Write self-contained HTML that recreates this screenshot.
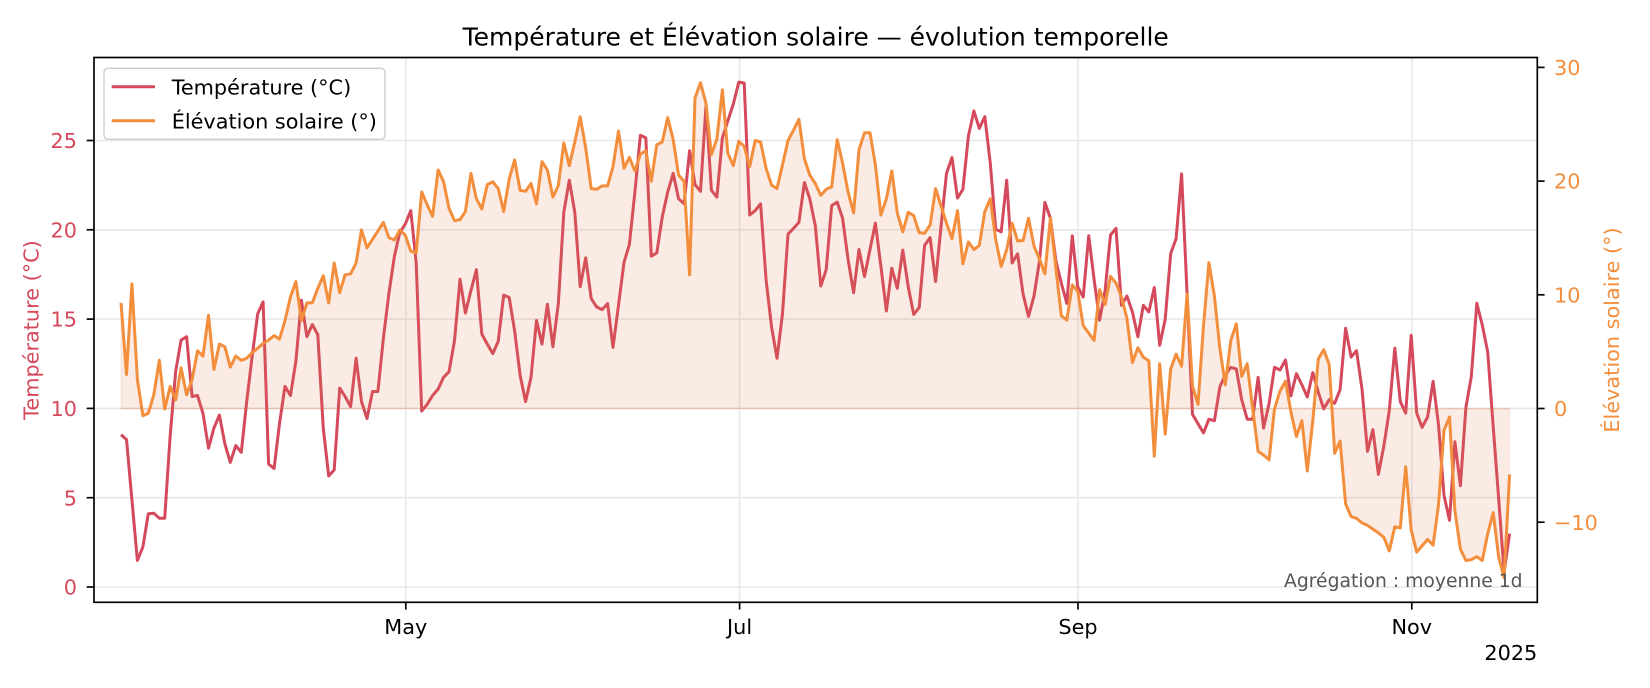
<!DOCTYPE html>
<html><head><meta charset="utf-8"><style>
html,body{margin:0;padding:0;background:#fff;}
svg{display:block;font-family:"DejaVu Sans","Liberation Sans",sans-serif;}
</style></head><body>
<svg width="1650" height="688" viewBox="0 0 1650 688" xmlns="http://www.w3.org/2000/svg">
<rect x="0" y="0" width="1650" height="688" fill="#fff"/>
<!-- grid -->
<g stroke="#e8e8e8" stroke-width="1.6">
<line x1="94" y1="587" x2="1537.3" y2="587"/>
<line x1="94" y1="497.7" x2="1537.3" y2="497.7"/>
<line x1="94" y1="408.4" x2="1537.3" y2="408.4"/>
<line x1="94" y1="319.1" x2="1537.3" y2="319.1"/>
<line x1="94" y1="229.8" x2="1537.3" y2="229.8"/>
<line x1="94" y1="140.5" x2="1537.3" y2="140.5"/>
<line x1="405.8" y1="57.5" x2="405.8" y2="602.3"/>
<line x1="739.6" y1="57.5" x2="739.6" y2="602.3"/>
<line x1="1078" y1="57.5" x2="1078" y2="602.3"/>
<line x1="1411.8" y1="57.5" x2="1411.8" y2="602.3"/>
</g>
<!-- temperature -->
<polyline fill="none" stroke="#d4495b" stroke-width="3" stroke-linejoin="round" points="121.0,434.7 126.5,439.5 131.9,499.6 137.4,560.5 142.9,546.9 148.3,513.8 153.8,513.2 159.3,518.2 164.7,518.2 170.2,435.4 175.7,371.2 181.1,340.1 186.6,336.7 192.1,396.5 197.5,395.5 203.0,413.4 208.5,448.2 213.9,428.0 219.4,415.1 224.9,443.9 230.3,462.4 235.8,445.5 241.3,452.3 246.7,401.6 252.2,356.0 257.7,313.7 263.1,301.9 268.6,464.1 274.1,468.5 279.5,423.6 285.0,386.4 290.5,395.5 295.9,361.0 301.4,300.2 306.9,336.7 312.3,324.5 317.8,334.7 323.3,428.6 328.7,476.0 334.2,469.9 339.7,388.1 345.1,396.5 350.6,406.7 356.1,358.3 361.5,401.6 367.0,418.5 372.5,391.5 377.9,391.5 383.4,338.0 388.9,293.4 394.4,256.2 399.8,232.6 405.3,224.1 410.8,210.6 416.2,263.0 421.7,411.1 427.2,404.3 432.6,395.5 438.1,389.1 443.6,377.3 449.0,371.8 454.5,340.7 460.0,279.2 465.4,313.0 470.9,290.7 476.4,269.7 481.8,334.0 487.3,344.1 492.8,353.6 498.2,341.4 503.7,295.1 509.2,297.5 514.6,330.6 520.1,375.2 525.6,401.6 531.0,377.3 536.5,320.5 542.0,344.1 547.4,304.2 552.9,346.8 558.4,302.9 563.8,212.3 569.3,180.2 574.8,212.3 580.2,286.6 585.7,257.9 591.2,298.5 596.6,306.9 602.1,309.6 607.6,303.6 613.0,347.5 618.5,305.2 624.0,262.3 629.4,244.4 634.9,192.0 640.4,135.2 645.8,137.9 651.3,256.2 656.8,252.8 662.2,217.3 667.7,192.0 673.2,173.4 678.6,198.8 684.1,203.8 689.6,150.7 695.0,184.6 700.5,191.3 706.0,105.8 711.4,190.3 716.9,197.1 722.4,137.9 727.8,121.0 733.3,104.1 738.8,82.1 744.2,83.1 749.7,215.0 755.2,210.6 760.6,203.8 766.1,279.9 771.6,327.2 777.0,358.3 782.5,313.7 788.0,234.2 793.4,228.5 798.9,222.4 804.4,182.5 809.8,198.8 815.3,225.8 820.8,286.0 826.2,269.7 831.7,205.5 837.2,202.1 842.6,218.4 848.1,259.6 853.6,292.7 859.0,249.5 864.5,276.5 870.0,249.5 875.4,223.1 880.9,266.4 886.4,311.0 891.8,268.1 897.3,288.3 902.8,250.1 908.2,286.6 913.7,314.4 919.2,307.6 924.6,245.4 930.1,237.6 935.6,281.6 941.1,225.8 946.5,173.4 952.0,157.5 957.5,198.1 962.9,189.3 968.4,136.2 973.9,110.9 979.3,128.4 984.8,116.6 990.3,163.3 995.7,229.2 1001.2,231.9 1006.7,180.2 1012.1,263.0 1017.6,253.9 1023.1,294.2 1028.5,316.4 1034.0,296.0 1039.5,260.9 1044.9,202.4 1050.4,218.3 1055.9,260.9 1061.3,283.1 1066.8,303.4 1072.3,235.7 1077.7,286.8 1083.2,297.1 1088.7,235.7 1094.1,279.4 1099.6,320.1 1105.1,290.5 1110.5,235.0 1116.0,228.3 1121.5,305.3 1126.9,296.0 1132.4,311.9 1137.9,336.7 1143.3,305.3 1148.8,311.9 1154.3,287.5 1159.7,345.2 1165.2,319.3 1170.7,253.5 1176.1,238.7 1181.6,173.9 1187.1,294.2 1192.5,414.4 1198.0,423.7 1203.5,432.9 1208.9,419.2 1214.4,420.7 1219.9,386.7 1225.3,374.8 1230.8,367.4 1236.3,368.9 1241.7,399.6 1247.2,419.2 1252.7,419.2 1258.1,377.4 1263.6,428.1 1269.1,403.3 1274.5,367.4 1280.0,370.0 1285.5,360.0 1290.9,395.9 1296.4,373.7 1301.9,384.8 1307.3,397.0 1312.8,372.6 1318.3,392.2 1323.7,408.9 1329.2,399.6 1334.7,403.3 1340.1,389.6 1345.6,328.2 1351.1,357.0 1356.5,350.7 1362.0,389.0 1367.5,451.4 1372.9,429.6 1378.4,474.4 1383.9,445.7 1389.3,410.5 1394.8,348.1 1400.3,401.6 1405.7,413.1 1411.2,335.4 1416.7,413.1 1422.1,427.3 1427.6,417.0 1433.1,381.4 1438.5,424.6 1444.0,495.4 1449.5,520.3 1454.9,441.8 1460.4,485.8 1465.9,407.4 1471.3,376.8 1476.8,303.3 1482.3,325.1 1487.7,351.9 1493.2,426.5 1498.7,499.2 1504.1,572.0 1509.6,533.7"/>
<!-- solar fill -->
<polygon fill="#e07a4a" fill-opacity="0.15" stroke="#e07a4a" stroke-opacity="0.15" stroke-width="1" points="121.0,302.9 126.5,374.5 131.9,283.9 137.4,379.6 142.9,415.8 148.3,413.4 153.8,394.8 159.3,360.3 164.7,409.0 170.2,386.4 175.7,399.9 181.1,367.8 186.6,394.8 192.1,379.6 197.5,350.9 203.0,356.0 208.5,315.4 213.9,369.5 219.4,344.1 224.9,346.8 230.3,367.1 235.8,356.0 241.3,360.3 246.7,358.3 252.2,352.6 257.7,348.2 263.1,343.4 268.6,340.1 274.1,335.7 279.5,339.1 285.0,320.5 290.5,296.8 295.9,281.6 301.4,320.5 306.9,302.9 312.3,302.9 317.8,288.3 323.3,275.8 328.7,302.9 334.2,263.0 339.7,292.7 345.1,274.8 350.6,273.8 356.1,263.0 361.5,229.9 367.0,247.8 372.5,239.3 377.9,230.9 383.4,222.4 388.9,237.6 394.4,240.0 399.8,229.9 405.3,235.3 410.8,251.2 416.2,252.8 421.7,192.0 427.2,204.8 432.6,216.3 438.1,170.0 443.6,181.8 449.0,208.2 454.5,220.7 460.0,219.7 465.4,211.6 470.9,173.4 476.4,198.8 481.8,208.9 487.3,184.6 492.8,181.8 498.2,188.6 503.7,211.6 509.2,179.1 514.6,159.9 520.1,190.3 525.6,191.3 531.0,183.5 536.5,203.8 542.0,161.6 547.4,170.0 552.9,197.1 558.4,185.2 563.8,143.0 569.3,165.6 574.8,142.0 580.2,116.9 585.7,148.0 591.2,188.6 596.6,189.3 602.1,185.9 607.6,185.9 613.0,166.6 618.5,131.1 624.0,168.3 629.4,157.5 634.9,171.0 640.4,154.1 645.8,150.7 651.3,181.2 656.8,144.7 662.2,142.0 667.7,117.6 673.2,139.6 678.6,175.1 684.1,181.2 689.6,274.8 695.0,98.0 700.5,82.8 706.0,103.4 711.4,154.8 716.9,138.6 722.4,89.9 727.8,153.1 733.3,165.6 738.8,141.3 744.2,146.4 749.7,166.6 755.2,140.6 760.6,142.0 766.1,168.3 771.6,185.2 777.0,188.6 782.5,164.9 788.0,140.6 793.4,130.5 798.9,119.3 804.4,158.9 809.8,175.1 815.3,183.5 820.8,195.4 826.2,189.3 831.7,186.9 837.2,139.6 842.6,163.3 848.1,192.0 853.6,212.9 859.0,149.7 864.5,132.8 870.0,132.8 875.4,164.9 880.9,215.0 886.4,198.8 891.8,171.0 897.3,212.9 902.8,231.9 908.2,212.3 913.7,215.7 919.2,232.6 924.6,233.2 930.1,225.1 935.6,188.6 941.1,206.2 946.5,223.1 952.0,238.6 957.5,210.6 962.9,263.7 968.4,242.0 973.9,249.5 979.3,245.4 984.8,211.6 990.3,198.8 995.7,239.3 1001.2,266.4 1006.7,249.5 1012.1,223.1 1017.6,241.0 1023.1,240.5 1028.5,218.3 1034.0,246.1 1039.5,259.0 1044.9,273.8 1050.4,218.3 1055.9,268.3 1061.3,315.6 1066.8,320.1 1072.3,284.9 1077.7,291.2 1083.2,325.6 1088.7,333.0 1094.1,340.4 1099.6,289.7 1105.1,304.5 1110.5,276.4 1116.0,283.1 1121.5,297.1 1126.9,318.2 1132.4,362.6 1137.9,347.8 1143.3,357.1 1148.8,360.8 1154.3,456.2 1159.7,363.7 1165.2,434.0 1170.7,368.9 1176.1,354.1 1181.6,366.3 1187.1,294.2 1192.5,385.9 1198.0,404.4 1203.5,325.6 1208.9,262.7 1214.4,296.0 1219.9,348.9 1225.3,384.8 1230.8,340.4 1236.3,323.8 1241.7,376.3 1247.2,363.7 1252.7,408.9 1258.1,451.4 1263.6,455.1 1269.1,459.9 1274.5,408.9 1280.0,391.1 1285.5,381.1 1290.9,411.8 1296.4,436.6 1301.9,420.7 1307.3,471.0 1312.8,420.7 1318.3,358.9 1323.7,349.7 1329.2,364.5 1334.7,453.3 1340.1,441.1 1345.6,503.8 1351.1,516.5 1356.5,518.4 1362.0,523.0 1367.5,525.3 1372.9,529.1 1378.4,532.9 1383.9,537.5 1389.3,550.9 1394.8,526.8 1400.3,527.9 1405.7,466.7 1411.2,529.9 1416.7,552.1 1422.1,545.9 1427.6,539.4 1433.1,545.2 1438.5,505.0 1444.0,430.4 1449.5,417.0 1454.9,510.7 1460.4,549.0 1465.9,560.5 1471.3,559.7 1476.8,556.6 1482.3,560.5 1487.7,533.7 1493.2,512.6 1498.7,557.4 1504.1,577.7 1509.6,474.4 1509.6,408.6 121.0,408.6"/>
<line x1="121" y1="408.6" x2="1509.6" y2="408.6" stroke="#e07a4a" stroke-opacity="0.18" stroke-width="1.4"/>
<!-- solar line -->
<polyline fill="none" stroke="#f28e3c" stroke-width="3" stroke-linejoin="round" points="121.0,302.9 126.5,374.5 131.9,283.9 137.4,379.6 142.9,415.8 148.3,413.4 153.8,394.8 159.3,360.3 164.7,409.0 170.2,386.4 175.7,399.9 181.1,367.8 186.6,394.8 192.1,379.6 197.5,350.9 203.0,356.0 208.5,315.4 213.9,369.5 219.4,344.1 224.9,346.8 230.3,367.1 235.8,356.0 241.3,360.3 246.7,358.3 252.2,352.6 257.7,348.2 263.1,343.4 268.6,340.1 274.1,335.7 279.5,339.1 285.0,320.5 290.5,296.8 295.9,281.6 301.4,320.5 306.9,302.9 312.3,302.9 317.8,288.3 323.3,275.8 328.7,302.9 334.2,263.0 339.7,292.7 345.1,274.8 350.6,273.8 356.1,263.0 361.5,229.9 367.0,247.8 372.5,239.3 377.9,230.9 383.4,222.4 388.9,237.6 394.4,240.0 399.8,229.9 405.3,235.3 410.8,251.2 416.2,252.8 421.7,192.0 427.2,204.8 432.6,216.3 438.1,170.0 443.6,181.8 449.0,208.2 454.5,220.7 460.0,219.7 465.4,211.6 470.9,173.4 476.4,198.8 481.8,208.9 487.3,184.6 492.8,181.8 498.2,188.6 503.7,211.6 509.2,179.1 514.6,159.9 520.1,190.3 525.6,191.3 531.0,183.5 536.5,203.8 542.0,161.6 547.4,170.0 552.9,197.1 558.4,185.2 563.8,143.0 569.3,165.6 574.8,142.0 580.2,116.9 585.7,148.0 591.2,188.6 596.6,189.3 602.1,185.9 607.6,185.9 613.0,166.6 618.5,131.1 624.0,168.3 629.4,157.5 634.9,171.0 640.4,154.1 645.8,150.7 651.3,181.2 656.8,144.7 662.2,142.0 667.7,117.6 673.2,139.6 678.6,175.1 684.1,181.2 689.6,274.8 695.0,98.0 700.5,82.8 706.0,103.4 711.4,154.8 716.9,138.6 722.4,89.9 727.8,153.1 733.3,165.6 738.8,141.3 744.2,146.4 749.7,166.6 755.2,140.6 760.6,142.0 766.1,168.3 771.6,185.2 777.0,188.6 782.5,164.9 788.0,140.6 793.4,130.5 798.9,119.3 804.4,158.9 809.8,175.1 815.3,183.5 820.8,195.4 826.2,189.3 831.7,186.9 837.2,139.6 842.6,163.3 848.1,192.0 853.6,212.9 859.0,149.7 864.5,132.8 870.0,132.8 875.4,164.9 880.9,215.0 886.4,198.8 891.8,171.0 897.3,212.9 902.8,231.9 908.2,212.3 913.7,215.7 919.2,232.6 924.6,233.2 930.1,225.1 935.6,188.6 941.1,206.2 946.5,223.1 952.0,238.6 957.5,210.6 962.9,263.7 968.4,242.0 973.9,249.5 979.3,245.4 984.8,211.6 990.3,198.8 995.7,239.3 1001.2,266.4 1006.7,249.5 1012.1,223.1 1017.6,241.0 1023.1,240.5 1028.5,218.3 1034.0,246.1 1039.5,259.0 1044.9,273.8 1050.4,218.3 1055.9,268.3 1061.3,315.6 1066.8,320.1 1072.3,284.9 1077.7,291.2 1083.2,325.6 1088.7,333.0 1094.1,340.4 1099.6,289.7 1105.1,304.5 1110.5,276.4 1116.0,283.1 1121.5,297.1 1126.9,318.2 1132.4,362.6 1137.9,347.8 1143.3,357.1 1148.8,360.8 1154.3,456.2 1159.7,363.7 1165.2,434.0 1170.7,368.9 1176.1,354.1 1181.6,366.3 1187.1,294.2 1192.5,385.9 1198.0,404.4 1203.5,325.6 1208.9,262.7 1214.4,296.0 1219.9,348.9 1225.3,384.8 1230.8,340.4 1236.3,323.8 1241.7,376.3 1247.2,363.7 1252.7,408.9 1258.1,451.4 1263.6,455.1 1269.1,459.9 1274.5,408.9 1280.0,391.1 1285.5,381.1 1290.9,411.8 1296.4,436.6 1301.9,420.7 1307.3,471.0 1312.8,420.7 1318.3,358.9 1323.7,349.7 1329.2,364.5 1334.7,453.3 1340.1,441.1 1345.6,503.8 1351.1,516.5 1356.5,518.4 1362.0,523.0 1367.5,525.3 1372.9,529.1 1378.4,532.9 1383.9,537.5 1389.3,550.9 1394.8,526.8 1400.3,527.9 1405.7,466.7 1411.2,529.9 1416.7,552.1 1422.1,545.9 1427.6,539.4 1433.1,545.2 1438.5,505.0 1444.0,430.4 1449.5,417.0 1454.9,510.7 1460.4,549.0 1465.9,560.5 1471.3,559.7 1476.8,556.6 1482.3,560.5 1487.7,533.7 1493.2,512.6 1498.7,557.4 1504.1,577.7 1509.6,474.4"/>
<!-- annotation -->
<text x="1522.6" y="587" font-size="18.75" fill="#555555" text-anchor="end">Agrégation : moyenne 1d</text>
<!-- spines -->
<rect x="94" y="57.5" width="1443.3" height="544.8" fill="none" stroke="#000" stroke-width="1.67"/>
<!-- ticks -->
<g stroke="#000" stroke-width="1.67">
<line x1="86.7" y1="587" x2="94" y2="587"/>
<line x1="86.7" y1="497.7" x2="94" y2="497.7"/>
<line x1="86.7" y1="408.4" x2="94" y2="408.4"/>
<line x1="86.7" y1="319.1" x2="94" y2="319.1"/>
<line x1="86.7" y1="229.8" x2="94" y2="229.8"/>
<line x1="86.7" y1="140.5" x2="94" y2="140.5"/>
<line x1="1537.3" y1="67.4" x2="1544.6" y2="67.4"/>
<line x1="1537.3" y1="181.1" x2="1544.6" y2="181.1"/>
<line x1="1537.3" y1="294.8" x2="1544.6" y2="294.8"/>
<line x1="1537.3" y1="408.5" x2="1544.6" y2="408.5"/>
<line x1="1537.3" y1="522.2" x2="1544.6" y2="522.2"/>
<line x1="405.8" y1="602.3" x2="405.8" y2="609.6"/>
<line x1="739.6" y1="602.3" x2="739.6" y2="609.6"/>
<line x1="1078" y1="602.3" x2="1078" y2="609.6"/>
<line x1="1411.8" y1="602.3" x2="1411.8" y2="609.6"/>
</g>
<g font-size="20.8" fill="#d4495b" text-anchor="end">
<text x="77" y="594.6">0</text>
<text x="77" y="505.3">5</text>
<text x="77" y="416">10</text>
<text x="77" y="326.7">15</text>
<text x="77" y="237.4">20</text>
<text x="77" y="148.1">25</text>
</g>
<g font-size="20.8" fill="#f28e3c" text-anchor="start">
<text x="1554" y="75">30</text>
<text x="1554" y="188.7">20</text>
<text x="1554" y="302.4">10</text>
<text x="1554" y="416.1">0</text>
<text x="1554" y="529.8">−10</text>
</g>
<g font-size="20.8" fill="#000" text-anchor="middle">
<text x="405.8" y="634">May</text>
<text x="739.6" y="634">Jul</text>
<text x="1078" y="634">Sep</text>
<text x="1411.8" y="634">Nov</text>
</g>
<text x="1537.3" y="660" font-size="20.8" fill="#000" text-anchor="end">2025</text>
<text transform="translate(38.5,330) rotate(-90)" font-size="20.8" fill="#d4495b" text-anchor="middle">Température (°C)</text>
<text transform="translate(1619,330) rotate(-90)" font-size="20.8" fill="#f28e3c" text-anchor="middle">Élévation solaire (°)</text>
<text x="815.7" y="45.7" font-size="25" fill="#000" text-anchor="middle">Température et Élévation solaire — évolution temporelle</text>
<!-- legend -->
<rect x="104" y="68.3" width="281" height="71" rx="4" ry="4" fill="#fff" fill-opacity="0.8" stroke="#cccccc" stroke-width="1.4"/>
<line x1="111.7" y1="86.7" x2="155" y2="86.7" stroke="#d4495b" stroke-width="3"/>
<line x1="111.7" y1="120.7" x2="155" y2="120.7" stroke="#f28e3c" stroke-width="3"/>
<text x="171.7" y="94.3" font-size="20.8" fill="#000">Température (°C)</text>
<text x="171.7" y="128.3" font-size="20.8" fill="#000">Élévation solaire (°)</text>
</svg>
</body></html>
